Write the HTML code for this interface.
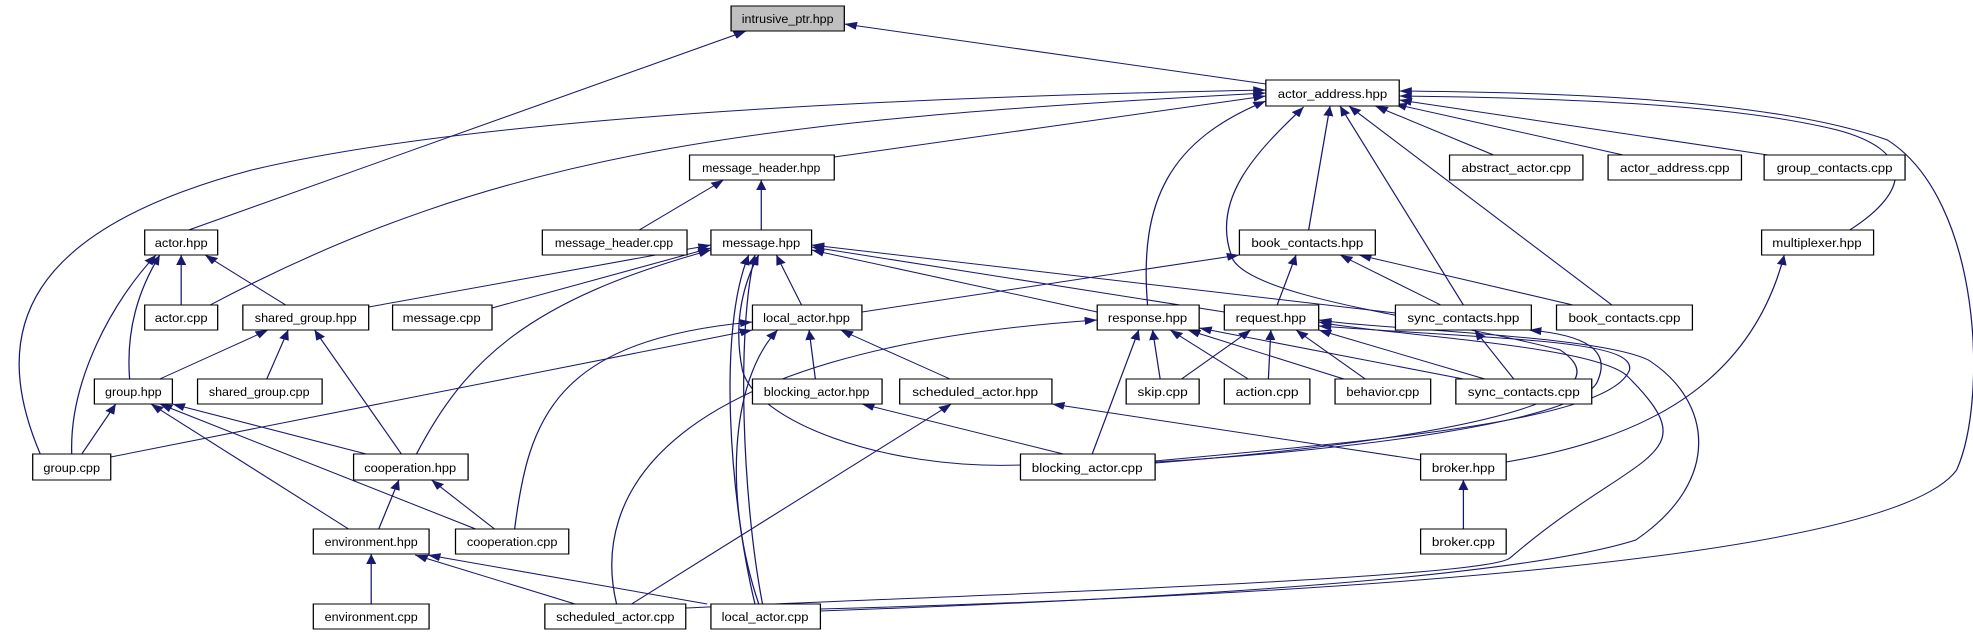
<!DOCTYPE html>
<html><head><meta charset="utf-8"><style>
html,body{margin:0;padding:0;background:#fff;}
svg{display:block;}
text{font-family:"Liberation Sans Narrow","Liberation Sans",sans-serif;font-size:12px;fill:#000;text-anchor:middle;}
.b{fill:#fff;stroke:#000;stroke-width:1;}
.e{fill:none;stroke:#191970;stroke-width:1;marker-end:url(#a);}
</style></head><body>
<svg width="1973" height="635" viewBox="0 0 1568 635" preserveAspectRatio="none" xmlns="http://www.w3.org/2000/svg">
<defs><marker id="a" markerWidth="10" markerHeight="8" refX="10" refY="4" orient="auto" markerUnits="userSpaceOnUse"><path d="M0,0 L10,4 L0,8 z" fill="#191970"/></marker></defs>
<g>
<path class="e" d="M1006,84 L671,24"/>
<path class="e" d="M150,230 L593,31"/>
<path class="e" d="M32,454 C -10,330 20,230 200,170 C 400,110 800,95 1006,90"/>
<path class="e" d="M167,305 C 400,150 600,120 1006,93"/>
<path class="e" d="M663,157 L1006,96"/>
<path class="e" d="M912,305 C 905,200 930,140 1006,101"/>
<path class="e" d="M918,463 C 1150,440 1300,400 1240,350 C 1150,320 1000,300 980,260 C 960,200 1000,150 1036,107"/>
<path class="e" d="M1040,230 L1057,106"/>
<path class="e" d="M1163,305 L1065,106"/>
<path class="e" d="M1281,305 L1072,106"/>
<path class="e" d="M1187,155 L1093,106"/>
<path class="e" d="M1290,155 L1108,104"/>
<path class="e" d="M1405,155 L1112,100"/>
<path class="e" d="M1470,230 C 1520,190 1520,150 1460,130 C 1380,105 1250,98 1112,96"/>
<path class="e" d="M652,609 C 1000,597 1500,565 1555,470 C 1580,400 1575,200 1500,140 C 1400,95 1200,92 1112,91"/>
<path class="e" d="M605,230 L605,180"/>
<path class="e" d="M508,230 L575,180"/>
<path class="e" d="M144,305 L144,255"/>
<path class="e" d="M227,305 L163,255"/>
<path class="e" d="M103,379 C 100,330 110,290 127,255"/>
<path class="e" d="M57,454 C 55,380 90,300 124,255"/>
<path class="e" d="M293,307 L565,245"/>
<path class="e" d="M391,308 L565,248"/>
<path class="e" d="M331,454 C 370,360 420,300 565,250"/>
<path class="e" d="M637,305 L617,255"/>
<path class="e" d="M600,604 C 580,500 570,330 595,255"/>
<path class="e" d="M606,604 C 590,500 585,330 600,255"/>
<path class="e" d="M811,465 C 700,470 600,420 590,370 C 582,320 592,280 603,255"/>
<path class="e" d="M872,312 L645,250"/>
<path class="e" d="M973,312 L645,247"/>
<path class="e" d="M1109,313 L645,245"/>
<path class="e" d="M685,312 L985,255"/>
<path class="e" d="M1015,305 L1030,255"/>
<path class="e" d="M1145,305 L1065,255"/>
<path class="e" d="M1250,305 L1080,255"/>
<path class="e" d="M127,379 L213,330"/>
<path class="e" d="M212,379 L229,330"/>
<path class="e" d="M319,454 L250,330"/>
<path class="e" d="M88,457 L598,330"/>
<path class="e" d="M409,529 C 420,420 440,340 598,322"/>
<path class="e" d="M603,604 C 575,500 580,380 618,330"/>
<path class="e" d="M648,379 L643,330"/>
<path class="e" d="M755,379 L668,330"/>
<path class="e" d="M65,454 L92,404"/>
<path class="e" d="M291,454 L137,404"/>
<path class="e" d="M277,529 L120,404"/>
<path class="e" d="M378,529 L127,404"/>
<path class="e" d="M301,529 L317,480"/>
<path class="e" d="M393,529 L343,480"/>
<path class="e" d="M295,604 L295,554"/>
<path class="e" d="M457,604 L330,555"/>
<path class="e" d="M562,604 L340,555"/>
<path class="e" d="M490,604 C 470,500 520,350 872,320"/>
<path class="e" d="M868,454 L905,330"/>
<path class="e" d="M922,379 L916,330"/>
<path class="e" d="M992,379 L930,330"/>
<path class="e" d="M1068,379 L944,330"/>
<path class="e" d="M1163,379 L953,328"/>
<path class="e" d="M939,379 L994,330"/>
<path class="e" d="M1008,379 L1010,330"/>
<path class="e" d="M1085,379 L1030,330"/>
<path class="e" d="M1180,379 L1048,330"/>
<path class="e" d="M1203,379 L1172,330"/>
<path class="e" d="M918,462 C 1080,450 1260,420 1270,380 C 1280,350 1260,335 1215,330"/>
<path class="e" d="M918,461 C 1100,440 1280,420 1295,370 C 1300,340 1200,340 1048,326"/>
<path class="e" d="M545,608 C 700,598 1180,580 1200,558 C 1300,450 1360,460 1294,377 C 1270,345 1100,335 1048,322"/>
<path class="e" d="M652,611 C 900,600 1200,580 1300,540 C 1370,480 1360,400 1310,360 C 1270,335 1100,330 1048,320"/>
<path class="e" d="M502,604 L756,404"/>
<path class="e" d="M845,454 L685,404"/>
<path class="e" d="M1129,460 L836,404"/>
<path class="e" d="M1197,462 C 1300,440 1390,390 1418,255"/>
<path class="e" d="M1163,529 L1163,480"/>
</g>
<g>
<rect x="581" y="6" width="90" height="25" style="fill:#bfbfbf;stroke:#000"/><text x="626" y="23" textLength="73" lengthAdjust="spacingAndGlyphs">intrusive_ptr.hpp</text>
<rect class="b" x="1006" y="80" width="106" height="26"/><text x="1059" y="98" textLength="87" lengthAdjust="spacingAndGlyphs">actor_address.hpp</text>
<rect class="b" x="548" y="155" width="115" height="25"/><text x="605" y="172" textLength="94" lengthAdjust="spacingAndGlyphs">message_header.hpp</text>
<rect class="b" x="1152" y="155" width="106" height="25"/><text x="1205" y="172" textLength="87" lengthAdjust="spacingAndGlyphs">abstract_actor.cpp</text>
<rect class="b" x="1278" y="155" width="106" height="25"/><text x="1331" y="172" textLength="87" lengthAdjust="spacingAndGlyphs">actor_address.cpp</text>
<rect class="b" x="1402" y="155" width="112" height="25"/><text x="1458" y="172" textLength="92" lengthAdjust="spacingAndGlyphs">group_contacts.cpp</text>
<rect class="b" x="115" y="230" width="58" height="25"/><text x="144" y="247" textLength="42" lengthAdjust="spacingAndGlyphs">actor.hpp</text>
<rect class="b" x="431" y="230" width="115" height="25"/><text x="488" y="247" textLength="94" lengthAdjust="spacingAndGlyphs">message_header.cpp</text>
<rect class="b" x="565" y="230" width="80" height="25"/><text x="605" y="247" textLength="62" lengthAdjust="spacingAndGlyphs">message.hpp</text>
<rect class="b" x="985" y="230" width="108" height="25"/><text x="1039" y="247" textLength="89" lengthAdjust="spacingAndGlyphs">book_contacts.hpp</text>
<rect class="b" x="1400" y="230" width="89" height="25"/><text x="1444" y="247" textLength="71" lengthAdjust="spacingAndGlyphs">multiplexer.hpp</text>
<rect class="b" x="115" y="305" width="58" height="25"/><text x="144" y="322" textLength="42" lengthAdjust="spacingAndGlyphs">actor.cpp</text>
<rect class="b" x="193" y="305" width="100" height="25"/><text x="243" y="322" textLength="81" lengthAdjust="spacingAndGlyphs">shared_group.hpp</text>
<rect class="b" x="312" y="305" width="79" height="25"/><text x="351" y="322" textLength="62" lengthAdjust="spacingAndGlyphs">message.cpp</text>
<rect class="b" x="598" y="305" width="87" height="25"/><text x="641" y="322" textLength="69" lengthAdjust="spacingAndGlyphs">local_actor.hpp</text>
<rect class="b" x="872" y="305" width="81" height="25"/><text x="912" y="322" textLength="63" lengthAdjust="spacingAndGlyphs">response.hpp</text>
<rect class="b" x="973" y="305" width="75" height="25"/><text x="1010" y="322" textLength="56" lengthAdjust="spacingAndGlyphs">request.hpp</text>
<rect class="b" x="1109" y="305" width="108" height="25"/><text x="1163" y="322" textLength="89" lengthAdjust="spacingAndGlyphs">sync_contacts.hpp</text>
<rect class="b" x="1237" y="305" width="108" height="25"/><text x="1291" y="322" textLength="89" lengthAdjust="spacingAndGlyphs">book_contacts.cpp</text>
<rect class="b" x="75" y="379" width="62" height="25"/><text x="106" y="396" textLength="45" lengthAdjust="spacingAndGlyphs">group.hpp</text>
<rect class="b" x="157" y="379" width="99" height="25"/><text x="206" y="396" textLength="80" lengthAdjust="spacingAndGlyphs">shared_group.cpp</text>
<rect class="b" x="598" y="379" width="103" height="25"/><text x="649" y="396" textLength="84" lengthAdjust="spacingAndGlyphs">blocking_actor.hpp</text>
<rect class="b" x="715" y="379" width="121" height="25"/><text x="775" y="396" textLength="100" lengthAdjust="spacingAndGlyphs">scheduled_actor.hpp</text>
<rect class="b" x="895" y="379" width="58" height="25"/><text x="924" y="396" textLength="40" lengthAdjust="spacingAndGlyphs">skip.cpp</text>
<rect class="b" x="973" y="379" width="68" height="25"/><text x="1007" y="396" textLength="50" lengthAdjust="spacingAndGlyphs">action.cpp</text>
<rect class="b" x="1061" y="379" width="76" height="25"/><text x="1099" y="396" textLength="58" lengthAdjust="spacingAndGlyphs">behavior.cpp</text>
<rect class="b" x="1157" y="379" width="108" height="25"/><text x="1211" y="396" textLength="89" lengthAdjust="spacingAndGlyphs">sync_contacts.cpp</text>
<rect class="b" x="26" y="454" width="62" height="26"/><text x="57" y="472" textLength="45" lengthAdjust="spacingAndGlyphs">group.cpp</text>
<rect class="b" x="281" y="454" width="91" height="26"/><text x="326" y="472" textLength="73" lengthAdjust="spacingAndGlyphs">cooperation.hpp</text>
<rect class="b" x="811" y="454" width="107" height="26"/><text x="864" y="472" textLength="88" lengthAdjust="spacingAndGlyphs">blocking_actor.cpp</text>
<rect class="b" x="1129" y="454" width="68" height="26"/><text x="1163" y="472" textLength="50" lengthAdjust="spacingAndGlyphs">broker.hpp</text>
<rect class="b" x="249" y="529" width="92" height="25"/><text x="295" y="546" textLength="74" lengthAdjust="spacingAndGlyphs">environment.hpp</text>
<rect class="b" x="362" y="529" width="90" height="25"/><text x="407" y="546" textLength="72" lengthAdjust="spacingAndGlyphs">cooperation.cpp</text>
<rect class="b" x="1129" y="529" width="68" height="25"/><text x="1163" y="546" textLength="50" lengthAdjust="spacingAndGlyphs">broker.cpp</text>
<rect class="b" x="249" y="604" width="92" height="25"/><text x="295" y="621" textLength="74" lengthAdjust="spacingAndGlyphs">environment.cpp</text>
<rect class="b" x="433" y="604" width="112" height="25"/><text x="489" y="621" textLength="94" lengthAdjust="spacingAndGlyphs">scheduled_actor.cpp</text>
<rect class="b" x="565" y="604" width="87" height="25"/><text x="608" y="621" textLength="69" lengthAdjust="spacingAndGlyphs">local_actor.cpp</text>
</g>
</svg>
</body></html>
